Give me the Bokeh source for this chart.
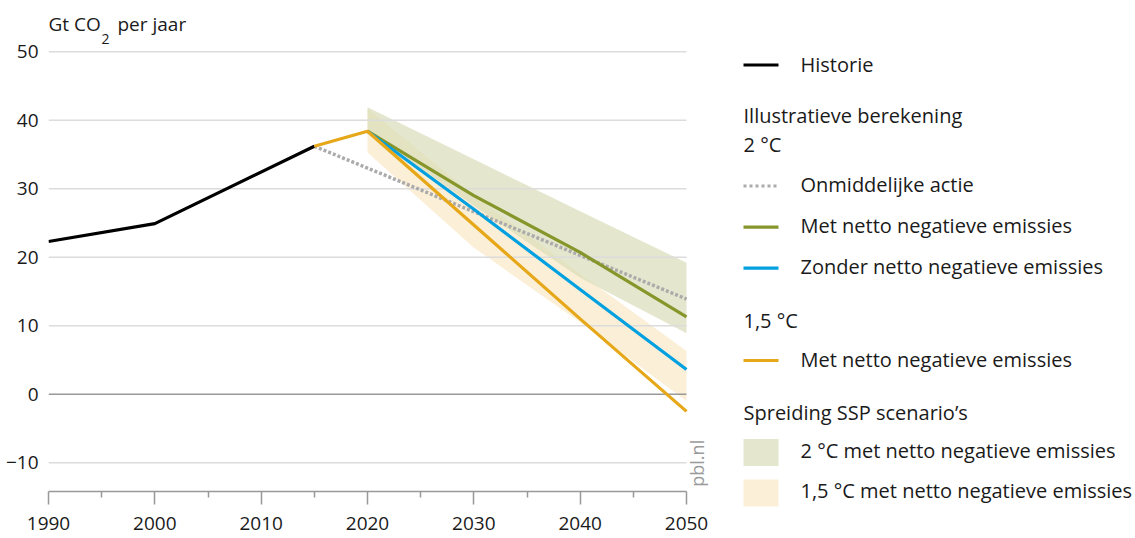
import math
from bokeh.plotting import figure
from bokeh.models import Range1d, FixedTicker
from bokeh.layouts import row, column
from bokeh.embed import file_html
from bokeh.resources import INLINE
from bokeh.core.properties import value

FONT = "Open Sans"
TXT = "#1a1a1a"

# ---------------- data ----------------
hist_years = [1990, 2000, 2015]
hist_vals = [22.3, 24.9, 36.2]

imm_years = [2015, 2050]          # 2 °C, onmiddelijke actie
imm_vals = [36.2, 13.9]

scen_years = [2020, 2030, 2040, 2050]
c2_neg = [38.4, 29.0, 20.7, 11.3]     # 2 °C met netto negatieve emissies
c2_noneg = [38.4, 27.0, 15.3, 3.6]    # 2 °C zonder netto negatieve emissies

c15_years = [2015, 2020, 2030, 2040, 2050]
c15_neg = [36.2, 38.4, 24.7, 11.0, -2.5]  # 1,5 °C met netto negatieve emissies

band_years = [2020, 2030, 2040, 2050]
band2_low = [38.4, 27.5, 17.0, 8.9]
band2_high = [41.9, 34.3, 26.7, 19.2]
band15_low = [35.3, 21.4, 10.5, -1.0]
band15_high = [41.7, 29.0, 17.6, 6.3]

x_ticks = [1990, 2000, 2010, 2020, 2030, 2040, 2050]
x_minor = [1995, 2005, 2015, 2025, 2035, 2045]
y_ticks = [-10, 0, 10, 20, 30, 40, 50]

y_title = ["Gt CO", "2", "per jaar"]

leg_headings = ["Illustratieve berekening", "2 °C", "1,5 °C", "Spreiding SSP scenario’s"]
leg_line_labels = ["Historie", "Onmiddelijke actie", "Met netto negatieve emissies",
                   "Zonder netto negatieve emissies", "Met netto negatieve emissies"]
leg_band_labels = ["2 °C met netto negatieve emissies", "1,5 °C met netto negatieve emissies"]

# ---------------- colours ----------------
C_HIST = "#000000"
C_IMM = "#ababab"
C_OLIVE = "#87962a"
C_BLUE = "#00a0e1"
C_ORANGE = "#e6a719"
C_BAND2 = "#d8ddb8"
C_BAND2_ALPHA = 0.7
C_BAND15 = "#fbefd7"

# ---------------- main chart ----------------
TOTAL_W, H = 1135, 538
W1 = 718
BL, BR, BB, BT = 48, 6, 47, 0
px_per_year = 638 / 60
px_per_unit = 6.85
x_end = 1990 + (W1 - BL - BR) / px_per_year
y_start = -14.2
y_end = y_start + (H - BB - BT) / px_per_unit
BASE_SHIFT = 8  # px: rendered baseline sits this much below the given y

p = figure(width=W1, height=H, x_range=Range1d(1990, x_end), y_range=Range1d(y_start, y_end),
           output_backend="svg", toolbar_location=None,
           min_border_left=BL, min_border_right=BR, min_border_bottom=BB, min_border_top=BT)
p.outline_line_color = None
p.grid.visible = False
p.background_fill_color = "white"
p.border_fill_color = "white"

# y axis (labels only)
p.yaxis.ticker = FixedTicker(ticks=y_ticks)
p.yaxis.axis_line_color = None
p.yaxis.major_tick_line_color = None
p.yaxis.minor_tick_line_color = None
p.yaxis.major_tick_out = 0
p.yaxis.major_tick_in = 0
p.yaxis.major_label_standoff = 10
p.yaxis.major_label_text_font = FONT
p.yaxis.major_label_text_font_size = "19px"
p.yaxis.major_label_text_color = TXT

# x axis
p.xaxis.ticker = FixedTicker(ticks=x_ticks, minor_ticks=x_minor)
p.xaxis.bounds = (1990, 2050)
p.xaxis.axis_line_color = "#999999"
p.xaxis.axis_line_width = 1.5
p.xaxis.major_tick_line_color = "#999999"
p.xaxis.major_tick_line_width = 1.5
p.xaxis.minor_tick_line_color = "#999999"
p.xaxis.minor_tick_line_width = 1.5
p.xaxis.major_tick_out = 13
p.xaxis.major_tick_in = 0
p.xaxis.minor_tick_out = 6
p.xaxis.minor_tick_in = 0
p.xaxis.major_label_standoff = 12
p.xaxis.major_label_text_font = FONT
p.xaxis.major_label_text_font_size = "19px"
p.xaxis.major_label_text_color = TXT

# bands
p.varea(x=band_years, y1=band15_low, y2=band15_high, fill_color=C_BAND15)
p.varea(x=band_years, y1=band2_low, y2=band2_high, fill_color=C_BAND2, fill_alpha=C_BAND2_ALPHA)

# gridlines (stop at 2050)
grid_cols = ["#999999" if t == 0 else "#dcdcdc" for t in y_ticks]
p.segment(x0=[x_ticks[0]] * len(y_ticks), x1=[x_ticks[-1]] * len(y_ticks),
          y0=y_ticks, y1=y_ticks, line_color=grid_cols, line_width=1.5)

# lines
p.line(imm_years, imm_vals, line_color=C_IMM, line_width=3.5, line_dash="3 2")
p.line(hist_years, hist_vals, line_color=C_HIST, line_width=3.2)
p.line(scen_years, c2_neg, line_color=C_OLIVE, line_width=3.2)
p.line(scen_years, c2_noneg, line_color=C_BLUE, line_width=3.2)
p.line(c15_years, c15_neg, line_color=C_ORANGE, line_width=3.2)

# axis title with subscript
sh = BASE_SHIFT / px_per_unit
p.text(x=[1990], y=[52.85 + sh], text=[y_title[0]], text_font=value(FONT), text_font_size="19px",
       text_color=TXT, text_baseline="alphabetic", text_align="left")
p.text(x=[1990], y=[51.85], text=[y_title[1]], text_font=value(FONT), text_font_size="14px",
       text_color=TXT, text_baseline="alphabetic", text_align="left", x_offset=53)
p.text(x=[1990], y=[52.85 + sh], text=[y_title[2]], text_font=value(FONT), text_font_size="19px",
       text_color=TXT, text_baseline="alphabetic", text_align="left", x_offset=69)

# source mark
p.text(x=[2051.0], y=[-13.5], text=["pbl.nl"], text_font=value(FONT), text_font_size="18px",
       text_color="#9a9a9a", text_baseline="alphabetic", text_align="left", angle=math.pi / 2)

# ---------------- legend panel ----------------
W2 = TOTAL_W - W1
X0 = W1          # page x of this panel's left edge


def fx(px):
    return px - X0


def fy(py):
    return py


lg = figure(width=W2, height=H, x_range=Range1d(0, W2), y_range=Range1d(H, 0),
            output_backend="svg", toolbar_location=None, x_axis_type=None, y_axis_type=None,
            min_border_left=0, min_border_right=0, min_border_top=0, min_border_bottom=0)
lg.outline_line_color = None
lg.grid.visible = False

LFS = "20px"
sx0, sx1, tx = 743, 778, 800

line_specs = [  # (line y, text baseline, colour, dash, width)
    (64.5, 71.7, C_HIST, "solid", 3.2),
    (185.5, 191.7, C_IMM, "3 3", 3.0),
    (226.7, 233.3, C_OLIVE, "solid", 3.2),
    (267.7, 274.3, C_BLUE, "solid", 3.2),
    (360.0, 367.0, C_ORANGE, "solid", 3.2),
]
for lab, (ly, tb, col, dash, lw) in zip(leg_line_labels, line_specs):
    lg.line([fx(sx0), fx(sx1)], [fy(ly), fy(ly)], line_color=col, line_width=lw, line_dash=dash)
    lg.text(x=[fx(tx)], y=[fy(tb - BASE_SHIFT)], text=[lab], text_font=value(FONT),
            text_font_size=LFS, text_color=TXT, text_baseline="alphabetic", text_align="left")

head_base = [123.3, 151.7, 328.3, 420.0]
for lab, tb in zip(leg_headings, head_base):
    lg.text(x=[fx(sx0)], y=[fy(tb - BASE_SHIFT)], text=[lab], text_font=value(FONT),
            text_font_size=LFS, text_color=TXT, text_baseline="alphabetic", text_align="left")

band_specs = [  # (top, bottom, text baseline, colour, alpha)
    (438.5, 465.5, 458.3, C_BAND2, C_BAND2_ALPHA),
    (479.0, 506.0, 498.3, C_BAND15, 1.0),
]
for lab, (t, b, tb, col, al) in zip(leg_band_labels, band_specs):
    lg.quad(left=[fx(sx0)], right=[fx(sx1)], top=[fy(t)], bottom=[fy(b)],
            fill_color=col, fill_alpha=al, line_color=None)
    lg.text(x=[fx(tx)], y=[fy(tb - BASE_SHIFT)], text=[lab], text_font=value(FONT),
            text_font_size=LFS, text_color=TXT, text_baseline="alphabetic", text_align="left")

layout = row(p, column(lg), spacing=0)
open("out.html", "w").write(file_html(layout, INLINE))
